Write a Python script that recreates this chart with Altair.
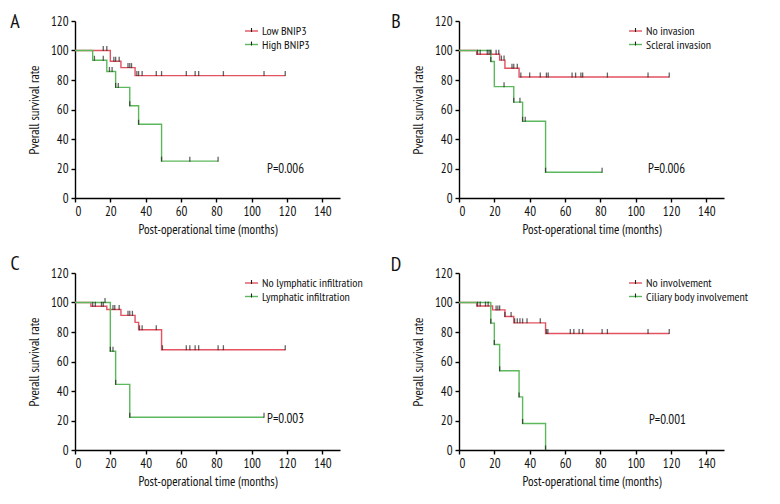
import altair as alt
import pandas as pd

FONT = "'PT Sans Narrow', 'Roboto Condensed', 'Archivo Narrow', 'DejaVu Sans Condensed', sans-serif"
RED = "#e2525f"
GREEN = "#5cb85c"
TICK_COLOR = "#222222"
TEXT_COLOR = "#111111"

x_ticks = [0, 20, 40, 60, 80, 100, 120, 140]
y_ticks = [0, 20, 40, 60, 80, 100, 120]

# ---------------- Panel A ----------------
a_letter = "A"
a_groups = ["Low BNIP3", "High BNIP3"]
a_p = "P=0.006"
a_p_pos = [108.7, 20]
a_low_t = [0, 20, 26, 34, 119]
a_low_s = [100, 92.7, 88.4, 83, 83]
a_low_cens = [16, 18, 22, 23, 25, 30, 31, 32, 35, 36, 38, 46, 49, 63, 68, 70, 84, 107, 119]
a_high_t = [0, 10, 18, 23, 31, 36, 49, 81]
a_high_s = [100, 93.4, 85.8, 75, 62.5, 50, 25, 25]
a_high_cens = [11, 16, 19.5, 21, 23, 24.5, 31, 36, 49, 65, 81]

# ---------------- Panel B ----------------
b_letter = "B"
b_groups = ["No invasion", "Scleral invasion"]
b_p = "P=0.006"
b_p_pos = [107, 20]
b_no_t = [0, 10, 23, 26, 34, 119]
b_no_s = [100, 97.5, 93.5, 88, 82, 82]
b_no_cens = [10.5, 12, 16, 17, 18, 21, 22.5, 24, 25.5, 30, 31, 33, 35, 40, 46, 49.5, 50.5, 64, 66, 69, 70, 84, 107, 119]
b_yes_t = [0, 18, 20, 31, 36, 49, 81]
b_yes_s = [100, 92.5, 75.5, 65, 52, 17.5, 17.5]
b_yes_cens = [18, 25.5, 31, 34.5, 36, 37.5, 49, 81]

# ---------------- Panel C ----------------
c_letter = "C"
c_groups = ["No lymphatic infiltration", "Lymphatic infiltration"]
c_p = "P=0.003"
c_p_pos = [108.7, 21]
c_no_t = [0, 9, 18, 26, 34, 36, 49, 119]
c_no_s = [100, 97.5, 95.3, 91.3, 86.5, 81.5, 68, 68]
c_no_cens = [10, 11.5, 15, 16, 21.5, 22.5, 25, 30, 31, 32.5, 36.5, 38, 46, 49.5, 63, 65, 68, 70, 81, 84, 119]
c_yes_t = [0, 20, 23, 31, 107]
c_yes_s = [100, 67, 44.5, 22.2, 22.2]
c_yes_cens = [17, 20, 21.5, 23, 31, 107]

# ---------------- Panel D ----------------
d_letter = "D"
d_groups = ["No involvement", "Ciliary body involvement"]
d_p = "P=0.001"
d_p_pos = [107.5, 20.5]
d_no_t = [0, 10, 19, 26, 31, 49, 119]
d_no_s = [100, 97.6, 95, 90.5, 86.2, 79, 79]
d_no_cens = [10.5, 12, 15, 16.5, 21, 22, 23, 26, 29.5, 31.5, 33, 34.5, 36, 38.5, 46, 49.5, 50.3, 63, 65, 68, 70, 81, 84, 107, 119]
d_yes_t = [0, 18, 20, 23, 34, 36, 49]
d_yes_s = [100, 86, 71.5, 53.7, 36, 18, 0]
d_yes_cens = [18, 20, 23, 34, 36, 49]


def level_at(ts, ss, t):
    v = ss[0]
    for ti, si in zip(ts, ss):
        if ti <= t:
            v = si
    return v


def panel(letter, groups, p_text, p_pos, t1, s1, c1, t2, s2, c2, letter_dx, letter_dy):
    curve = pd.DataFrame({
        "t": t1 + t2,
        "s": s1 + s2,
        "g": [groups[0]] * len(t1) + [groups[1]] * len(t2),
    })
    cens = pd.DataFrame({
        "t": c1 + c2,
        "s": [level_at(t1, s1, c) for c in c1] + [level_at(t2, s2, c) for c in c2],
        "g": [groups[0]] * len(c1) + [groups[1]] * len(c2),
    })
    xs = alt.Scale(domain=[0, 150], nice=False, zero=False)
    ys = alt.Scale(domain=[0, 120], nice=False, zero=False)
    x_axis = alt.Axis(values=x_ticks, title="Post-operational time (months)", grid=False,
                      labelOverlap=False, format="d")
    y_axis = alt.Axis(values=y_ticks, title="Pverall survival rate", grid=False,
                      labelOverlap=False, format="d")

    lines = alt.Chart(curve).mark_line(interpolate="step-after", strokeWidth=1.4).encode(
        x=alt.X("t:Q", scale=xs, axis=x_axis),
        y=alt.Y("s:Q", scale=ys, axis=y_axis),
        color=alt.Color("g:N", scale=alt.Scale(domain=groups, range=[RED, GREEN]), legend=None),
        order="t:Q",
    )
    ticks = alt.Chart(cens).mark_tick(
        orient="vertical", size=5, thickness=1.3, yOffset=-2, color=TICK_COLOR
    ).encode(
        x=alt.X("t:Q", scale=xs, axis=x_axis),
        y=alt.Y("s:Q", scale=ys, axis=y_axis),
    )
    ptext = alt.Chart(pd.DataFrame({"p": [p_text]})).mark_text(
        align="left", baseline="middle", font=FONT, fontSize=13, color=TEXT_COLOR
    ).encode(
        x=alt.XDatum(p_pos[0], scale=xs, axis=x_axis),
        y=alt.YDatum(p_pos[1], scale=ys, axis=y_axis),
        text="p:N",
    )
    ltext = alt.Chart(pd.DataFrame({"l": [letter]})).mark_text(
        align="center", baseline="middle", font=FONT, fontSize=20, color=TEXT_COLOR
    ).encode(
        x=alt.value(letter_dx),
        y=alt.value(letter_dy),
        text="l:N",
    )
    layers = [lines, ticks, ptext, ltext]
    # legend (drawn as marks inside the plot area, top right)
    for i, (g, col) in enumerate(zip(groups, [RED, GREEN])):
        gy = 10 + 13.5 * i
        gdf = pd.DataFrame({"g": [g]})
        layers.append(alt.Chart(gdf).mark_rule(color=col, strokeWidth=1.4).encode(
            x=alt.value(170), x2=alt.value(183), y=alt.value(gy)))
        layers.append(alt.Chart(gdf).mark_rule(color=TICK_COLOR, strokeWidth=1.1).encode(
            x=alt.value(176.5), y=alt.value(gy - 3), y2=alt.value(gy + 1)))
        layers.append(alt.Chart(gdf).mark_text(
            align="left", baseline="middle", font=FONT, fontSize=12, color=TEXT_COLOR
        ).encode(x=alt.value(187), y=alt.value(gy), text="g:N"))
    return alt.layer(*layers).properties(width=265, height=177)


pa = panel(a_letter, a_groups, a_p, a_p_pos, a_low_t, a_low_s, a_low_cens, a_high_t, a_high_s, a_high_cens, -60, 1)
pb = panel(b_letter, b_groups, b_p, b_p_pos, b_no_t, b_no_s, b_no_cens, b_yes_t, b_yes_s, b_yes_cens, -63, 1)
pc = panel(c_letter, c_groups, c_p, c_p_pos, c_no_t, c_no_s, c_no_cens, c_yes_t, c_yes_s, c_yes_cens, -60, -9.5)
pd_ = panel(d_letter, d_groups, d_p, d_p_pos, d_no_t, d_no_s, d_no_cens, d_yes_t, d_yes_s, d_yes_cens, -63, -8)

chart = alt.concat(
    pa, pb, pc, pd_, columns=2, bounds="flush",
    spacing=alt.RowColnumber(row=75, column=119),
).resolve_scale(color="independent").configure_view(
    stroke=None
).configure_axis(
    domainColor="#000000", domainWidth=1.4, tickColor="#000000", tickWidth=1.4, tickSize=4,
    labelFont=FONT, labelFontSize=13, labelColor=TEXT_COLOR, labelPadding=3,
    titleFont=FONT, titleFontSize=13, titleFontWeight="normal", titleColor=TEXT_COLOR,
    labelOverlap=False,
).configure_axisX(titlePadding=5).configure_axisY(titlePadding=9).properties(
    background="#ffffff",
    padding={"left": 2, "top": 4, "right": 5, "bottom": 5},
)

chart.save("out.html", embed_options={"renderer": "svg", "actions": False})
